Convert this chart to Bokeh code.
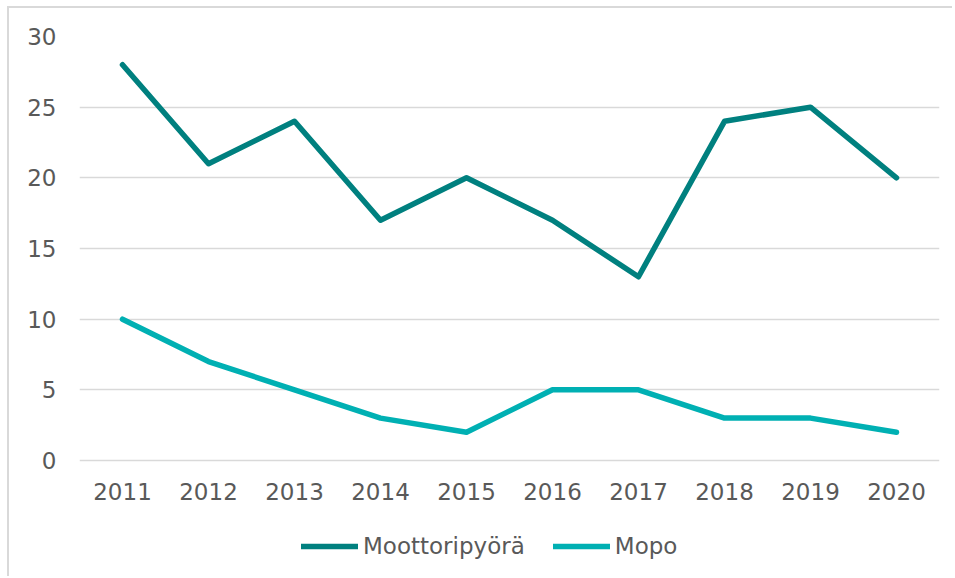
from bokeh.plotting import figure
from bokeh.models import Legend, LegendItem, FixedTicker, ColumnDataSource
from bokeh.embed import file_html
from bokeh.resources import INLINE
from bokeh.core.properties import value

years = ["2011", "2012", "2013", "2014", "2015", "2016", "2017", "2018", "2019", "2020"]
moottoripyora = [28, 21, 24, 17, 20, 17, 13, 24, 25, 20]
mopo = [10, 7, 5, 3, 2, 5, 5, 3, 3, 2]
y_ticks = [0, 5, 10, 15, 20, 25, 30]

FONT = "DejaVu Sans"
TXT = "#595959"
FS = "23px"

p = figure(x_range=years, y_range=(-7.783, 30), width=945, height=570,
           output_backend="svg", toolbar_location=None,
           min_border_left=70, min_border_right=15, min_border_top=28, min_border_bottom=8)
p.styles = {"margin-left": "7px", "margin-top": "6px",
            "border-top": "2px solid #d9d9d9", "border-left": "2px solid #d9d9d9"}
p.outline_line_color = None
p.background_fill_color = "white"

r1 = p.line(years, moottoripyora, line_color="#00807F", line_width=5.5, line_cap="round", line_join="round")
r2 = p.line(years, mopo, line_color="#00B0B3", line_width=5.5, line_cap="round", line_join="round")

# category labels under the zero line
lab_src = ColumnDataSource(dict(x=years, y=[0] * len(years), t=years))
p.text(x="x", y="y", text="t", source=lab_src, y_offset=31,
       text_align="center", text_baseline="middle",
       text_font=value(FONT), text_font_size=FS, text_color=TXT)

p.xaxis.visible = False
p.yaxis.ticker = FixedTicker(ticks=y_ticks)
ax = p.yaxis[0]
ax.axis_line_color = None
ax.major_tick_line_color = None
ax.minor_tick_line_color = None
ax.major_label_text_font = FONT
ax.major_label_text_font_size = FS
ax.major_label_text_color = TXT
ax.major_label_standoff = 17

p.xgrid.grid_line_color = None
p.ygrid.grid_line_color = "#d9d9d9"
p.ygrid.grid_line_width = 1.5

legend = Legend(items=[LegendItem(label="Moottoripyörä", renderers=[r1]),
                       LegendItem(label="Mopo", renderers=[r2])],
                orientation="horizontal", location=(222, 11),
                label_text_font=FONT, label_text_font_size=FS, label_text_color=TXT,
                glyph_width=57, label_standoff=5, spacing=28,
                border_line_color=None, background_fill_alpha=0,
                margin=0, padding=5)
p.add_layout(legend, "center")

open("out.html", "w").write(file_html(p, INLINE))
